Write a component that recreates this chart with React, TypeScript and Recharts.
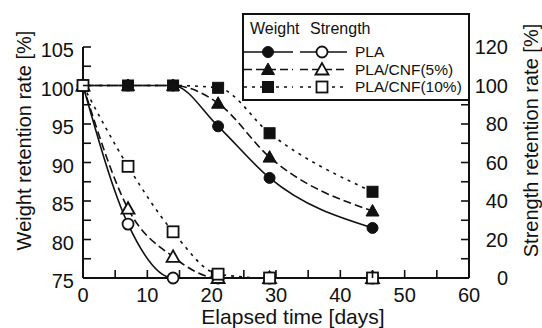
import { ComposedChart, Line, XAxis, YAxis } from 'recharts';

const days = [0, 7, 14, 21, 29, 45];

const weightPLA = [100, 100, 100, 94.7, 88.0, 81.5];
const weightCNF5 = [100, 100, 100, 97.7, 90.7, 83.7];
const weightCNF10 = [100, 100, 100, 99.7, 93.8, 86.2];

const strengthPLA = [100, 28, 0, 0, 0, 0];
const strengthCNF5 = [100, 36, 11, 0, 0, 0];
const strengthCNF10 = [100, 58, 24, 2, 0, 0];

const xTicks = [0, 5, 10, 15, 20, 25, 30, 35, 40, 45, 50, 55, 60];
const weightTicks = [75, 77.5, 80, 82.5, 85, 87.5, 90, 92.5, 95, 97.5, 100, 102.5, 105];
const strengthTicks = [0, 10, 20, 30, 40, 50, 60, 70, 80, 90, 100, 110, 120];

const table = days.map((d, i) => ({
  day: d,
  wPLA: weightPLA[i],
  wCNF5: weightCNF5[i],
  wCNF10: weightCNF10[i],
  sPLA: strengthPLA[i],
  sCNF5: strengthCNF5[i],
  sCNF10: strengthCNF10[i],
}));

const FONT = 'Liberation Sans, Arial, Helvetica, sans-serif';
const INK = '#111';
const TICK_LEN = 8;

const SOLID = undefined;
const DASHED = '8 4';
const DOTTED = '3 5';

type Shape = 'circle' | 'triangle' | 'square';

function Marker({ cx, cy, shape, filled }: { cx: number; cy: number; shape: Shape; filled: boolean }) {
  const fill = filled ? INK : '#fff';
  const sw = filled ? 1 : 1.8;
  if (shape === 'circle') return <circle cx={cx} cy={cy} r={5.5} fill={fill} stroke={INK} strokeWidth={sw} />;
  if (shape === 'triangle')
    return (
      <polygon
        points={`${cx},${cy - 6.5} ${cx - 6.5},${cy + 5} ${cx + 6.5},${cy + 5}`}
        fill={fill}
        stroke={INK}
        strokeWidth={sw}
      />
    );
  return <rect x={cx - 5.5} y={cy - 5.5} width={11} height={11} fill={fill} stroke={INK} strokeWidth={sw} />;
}

const makeDot = (shape: Shape, filled: boolean) => (p: any) => {
  if (p.cx == null || p.cy == null || p.value == null) return <g key={p.index} />;
  return (
    <g key={p.index}>
      <Marker cx={p.cx} cy={p.cy} shape={shape} filled={filled} />
    </g>
  );
};

const textStyle = { fontFamily: FONT, fontSize: 20, fill: INK };

function BottomTick({ x, y, payload }: any) {
  const major = payload.value % 10 === 0;
  return (
    <g>
      <line x1={x} y1={y} x2={x} y2={y - TICK_LEN} stroke={INK} strokeWidth={1.6} />
      {major && (
        <text x={x} y={y + 17} dy="0.35em" textAnchor="middle" style={textStyle}>
          {payload.value}
        </text>
      )}
    </g>
  );
}

function TopTick({ x, y }: any) {
  return <line x1={x} y1={y} x2={x} y2={y + TICK_LEN} stroke={INK} strokeWidth={1.6} />;
}

function LeftTick({ x, y, payload }: any) {
  const major = payload.value % 5 === 0;
  return (
    <g>
      <line x1={x} y1={y} x2={x + TICK_LEN} y2={y} stroke={INK} strokeWidth={1.6} />
      {major && (
        <text x={x - 9} y={y + 3} dy="0.35em" textAnchor="end" style={textStyle}>
          {payload.value}
        </text>
      )}
    </g>
  );
}

function RightTick({ x, y, payload }: any) {
  const major = payload.value % 20 === 0;
  return (
    <g>
      <line x1={x} y1={y} x2={x - TICK_LEN} y2={y} stroke={INK} strokeWidth={1.6} />
      {major && (
        <text x={x + 39} y={y} dy="0.35em" textAnchor="end" style={textStyle}>
          {payload.value}
        </text>
      )}
    </g>
  );
}

const axisLine = { stroke: INK, strokeWidth: 2 };

const legendRows: { name: string; dash?: string; shape: Shape }[] = [
  { name: 'PLA', dash: SOLID, shape: 'circle' },
  { name: 'PLA/CNF(5%)', dash: DASHED, shape: 'triangle' },
  { name: 'PLA/CNF(10%)', dash: DOTTED, shape: 'square' },
];

function LegendBox() {
  const legendText = { fontFamily: FONT, fontSize: 15.5, fill: INK };
  return (
    <svg
      width={228}
      height={88}
      style={{ position: 'absolute', left: 242, top: 13, background: '#fff', display: 'block' }}
    >
      <rect x={1} y={1} width={226} height={86} fill="#fff" stroke={INK} strokeWidth={2} />
      <text x={8} y={15} dy="0.35em" style={{ ...legendText, fontSize: 16 }}>
        Weight
      </text>
      <text x={68} y={15} dy="0.35em" style={{ ...legendText, fontSize: 16 }}>
        Strength
      </text>
      {legendRows.map((r, i) => {
        const y = 39 + i * 17.5;
        return (
          <g key={r.name}>
            <line x1={2} y1={y} x2={51} y2={y} stroke={INK} strokeWidth={1.6} strokeDasharray={r.dash} />
            <Marker cx={26} cy={y} shape={r.shape} filled />
            <line x1={58} y1={y} x2={105} y2={y} stroke={INK} strokeWidth={1.6} strokeDasharray={r.dash} />
            <Marker cx={80} cy={y} shape={r.shape} filled={false} />
            <text x={113} y={y} dy="0.35em" style={legendText}>
              {r.name}
            </text>
          </g>
        );
      })}
    </svg>
  );
}

export default function App() {
  return (
    <div style={{ position: 'absolute', left: 0, top: 0, width: 542, height: 328, background: '#fff' }}>
      <ComposedChart width={542} height={328} data={table} margin={{ top: 47, right: 0, bottom: 0, left: 0 }}>
        <XAxis
          xAxisId="b"
          dataKey="day"
          type="number"
          domain={[0, 60]}
          ticks={xTicks}
          interval={0}
          height={50}
          tickSize={0}
          tickMargin={0}
          tickLine={false}
          axisLine={axisLine}
          tick={<BottomTick />}
          label={{
            content: ({ viewBox }: any) => (
              <text
                x={viewBox.x + viewBox.width / 2 + 17}
                y={viewBox.y + 39}
                dy="0.35em"
                textAnchor="middle"
                style={{ ...textStyle, fontSize: 21 }}
              >
                Elapsed time [days]
              </text>
            ),
          }}
        />
        <XAxis
          xAxisId="t"
          dataKey="day"
          type="number"
          orientation="top"
          domain={[0, 60]}
          ticks={xTicks}
          interval={0}
          height={0}
          tickSize={0}
          tickMargin={0}
          tickLine={false}
          axisLine={axisLine}
          tick={<TopTick />}
        />
        <YAxis
          yAxisId="w"
          type="number"
          domain={[75, 105]}
          ticks={weightTicks}
          interval={0}
          width={83}
          tickSize={0}
          tickMargin={0}
          tickLine={false}
          axisLine={axisLine}
          tick={<LeftTick />}
          label={{
            content: ({ viewBox }: any) => {
              const cx = 24;
              const cy = viewBox.y + viewBox.height / 2 - 22;
              return (
                <text
                  x={cx}
                  y={cy}
                  dy="0.35em"
                  textAnchor="middle"
                  transform={`rotate(-90, ${cx}, ${cy})`}
                  style={textStyle}
                >
                  Weight retention rate [%]
                </text>
              );
            },
          }}
        />
        <YAxis
          yAxisId="s"
          orientation="right"
          type="number"
          domain={[0, 120]}
          ticks={strengthTicks}
          interval={0}
          width={73}
          tickSize={0}
          tickMargin={0}
          tickLine={false}
          axisLine={axisLine}
          tick={<RightTick />}
          label={{
            content: ({ viewBox }: any) => {
              const cx = viewBox.x + 62;
              const cy = viewBox.y + viewBox.height / 2 - 22;
              return (
                <text
                  x={cx}
                  y={cy}
                  dy="0.35em"
                  textAnchor="middle"
                  transform={`rotate(-90, ${cx}, ${cy})`}
                  style={textStyle}
                >
                  Strength retention rate [%]
                </text>
              );
            },
          }}
        />

        <Line xAxisId="b" yAxisId="w" type="monotone" dataKey="wCNF10" stroke={INK} strokeWidth={1.6} strokeDasharray={DOTTED} dot={makeDot('square', true)} isAnimationActive={false} />
        <Line xAxisId="b" yAxisId="w" type="monotone" dataKey="wCNF5" stroke={INK} strokeWidth={1.6} strokeDasharray={DASHED} dot={makeDot('triangle', true)} isAnimationActive={false} />
        <Line xAxisId="b" yAxisId="w" type="monotone" dataKey="wPLA" stroke={INK} strokeWidth={1.6} dot={makeDot('circle', true)} isAnimationActive={false} />

        <Line xAxisId="b" yAxisId="s" type="monotone" dataKey="sPLA" stroke={INK} strokeWidth={1.6} dot={makeDot('circle', false)} isAnimationActive={false} />
        <Line xAxisId="b" yAxisId="s" type="monotone" dataKey="sCNF5" stroke={INK} strokeWidth={1.6} strokeDasharray={DASHED} dot={makeDot('triangle', false)} isAnimationActive={false} />
        <Line xAxisId="b" yAxisId="s" type="monotone" dataKey="sCNF10" stroke={INK} strokeWidth={1.6} strokeDasharray={DOTTED} dot={makeDot('square', false)} isAnimationActive={false} />
      </ComposedChart>
      <LegendBox />
    </div>
  );
}
